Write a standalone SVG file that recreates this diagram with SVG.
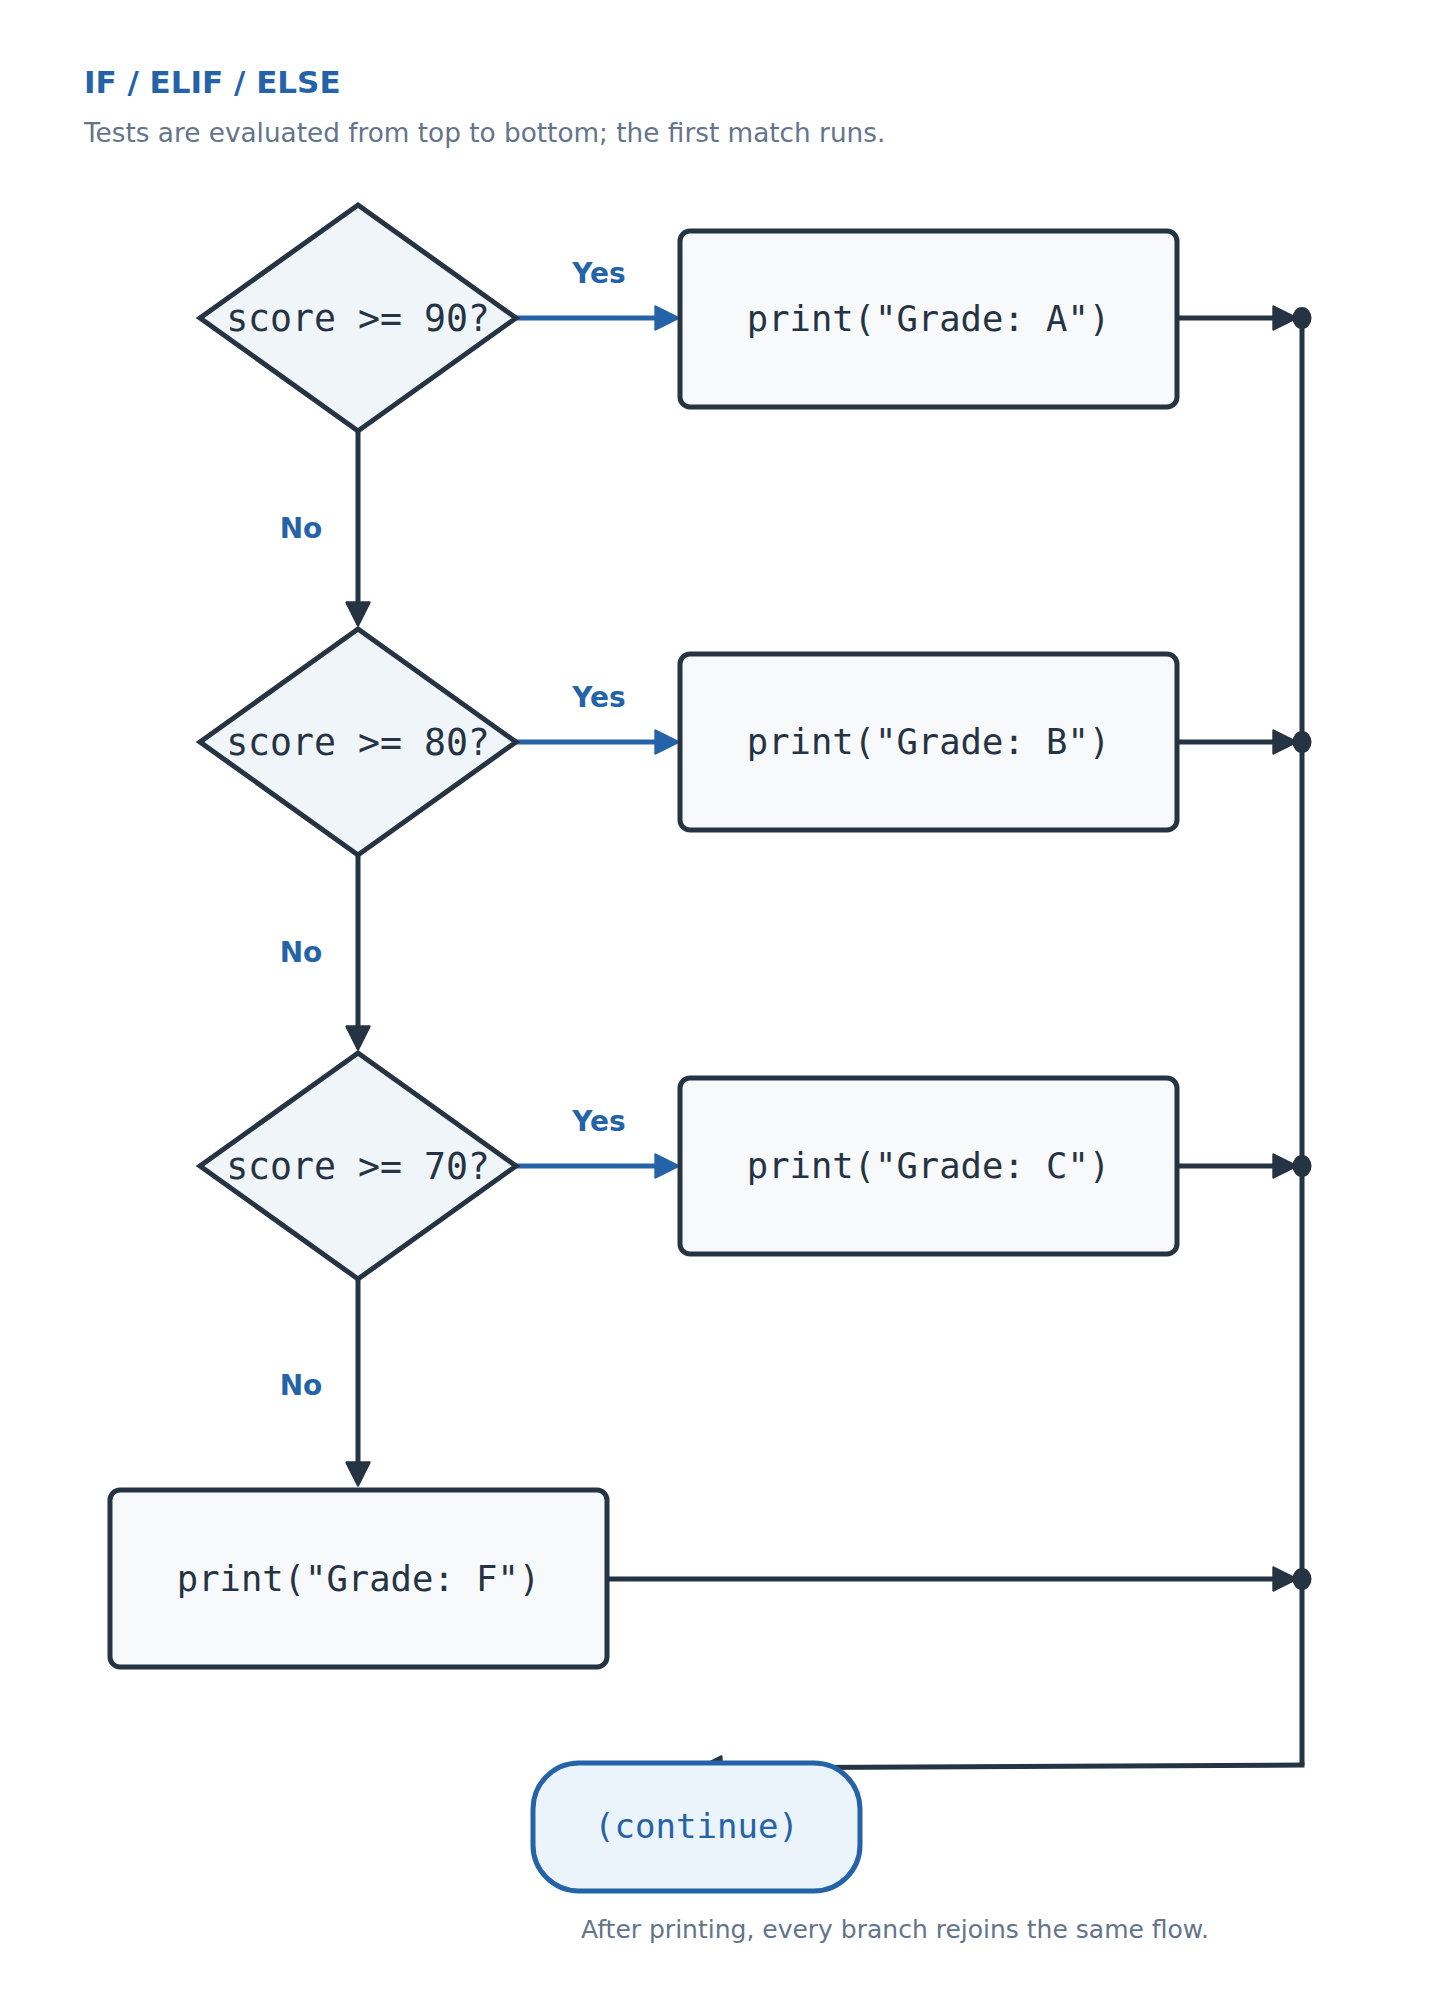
<svg xmlns="http://www.w3.org/2000/svg" width="1445" height="1990" viewBox="0 0 1445 1990">
<style>
.title{font-family:"DejaVu Sans",sans-serif;font-weight:bold;font-size:31px;fill:#2563a8}
.sub{font-family:"DejaVu Sans",sans-serif;font-size:26.3px;fill:#64748b}
.foot{font-family:"DejaVu Sans",sans-serif;font-size:25px;fill:#64748b}
.lbl{font-family:"DejaVu Sans",sans-serif;font-weight:bold;font-size:28px;fill:#2563a8;text-anchor:middle}
.mono{font-family:"DejaVu Sans Mono",monospace;fill:#253342;text-anchor:middle}
.dia{fill:#f0f5fa;stroke:#253342;stroke-width:5;stroke-linejoin:miter}
.box{fill:#f7f9fb;stroke:#253342;stroke-width:5}
.term{fill:#ebf3fb;stroke:#2563a8;stroke-width:5}
.dk{fill:none;stroke:#253342;stroke-width:5}
.bl{fill:none;stroke:#2563a8;stroke-width:5}
.dot{fill:#253342}
</style>
<defs>
<marker id="ad" markerUnits="userSpaceOnUse" markerWidth="30" markerHeight="30" viewBox="-2 -2 26 24" refX="10" refY="10" orient="auto">
<path d="M0,0 L20,10 L0,20 z" fill="#253342" stroke="#253342" stroke-width="2" stroke-linejoin="round"/>
</marker>
<marker id="ab" markerUnits="userSpaceOnUse" markerWidth="30" markerHeight="30" viewBox="-2 -2 26 24" refX="10" refY="10" orient="auto">
<path d="M0,0 L20,10 L0,20 z" fill="#2563a8" stroke="#2563a8" stroke-width="2" stroke-linejoin="round"/>
</marker>
</defs>
<rect width="1445" height="1990" fill="#ffffff"/>
<text class="title" x="84" y="93">IF / ELIF / ELSE</text>
<text class="sub" x="84" y="142">Tests are evaluated from top to bottom; the first match runs.</text>

<g id="connectors">
<path class="bl" d="M516,318 L667,318" marker-end="url(#ab)"/>
<path class="bl" d="M516,742 L667,742" marker-end="url(#ab)"/>
<path class="bl" d="M516,1166 L667,1166" marker-end="url(#ab)"/>
<path class="dk" d="M358,431 L358,614" marker-end="url(#ad)"/>
<path class="dk" d="M358,855 L358,1038" marker-end="url(#ad)"/>
<path class="dk" d="M358,1279 L358,1474" marker-end="url(#ad)"/>
<path class="dk" d="M1177,318 L1285,318" marker-end="url(#ad)"/>
<path class="dk" d="M1177,742 L1285,742" marker-end="url(#ad)"/>
<path class="dk" d="M1177,1166 L1285,1166" marker-end="url(#ad)"/>
<path class="dk" d="M607,1579 L1285,1579" marker-end="url(#ad)"/>
<path class="dk" d="M1302,318 L1302,1765"/>
<path class="dk" d="M1304.5,1765 L710,1768" marker-end="url(#ad)"/>
<ellipse class="dot" cx="1302" cy="318" rx="9.5" ry="11"/>
<ellipse class="dot" cx="1302" cy="742" rx="9.5" ry="11"/>
<ellipse class="dot" cx="1302" cy="1166" rx="9.5" ry="11"/>
<ellipse class="dot" cx="1302" cy="1579" rx="9.5" ry="11"/>
<text class="lbl" x="599" y="283">Yes</text>
<text class="lbl" x="599" y="707">Yes</text>
<text class="lbl" x="599" y="1131">Yes</text>
<text class="lbl" x="301" y="538">No</text>
<text class="lbl" x="301" y="962">No</text>
<text class="lbl" x="301" y="1395">No</text>
</g>

<g id="d1">
<polygon class="dia" points="358,205 516,318 358,431 200,318"/>
<text class="mono" x="358" y="331" font-size="36.5">score &gt;= 90?</text>
</g>
<g id="d2">
<polygon class="dia" points="358,629 516,742 358,855 200,742"/>
<text class="mono" x="358" y="755" font-size="36.5">score &gt;= 80?</text>
</g>
<g id="d3">
<polygon class="dia" points="358,1053 516,1166 358,1279 200,1166"/>
<text class="mono" x="358" y="1179" font-size="36.5">score &gt;= 70?</text>
</g>
<g id="pA">
<rect class="box" x="680" y="231" width="497" height="176" rx="10"/>
<text class="mono" x="928.5" y="331" font-size="35.5">print("Grade: A")</text>
</g>
<g id="pB">
<rect class="box" x="680" y="654" width="497" height="176" rx="10"/>
<text class="mono" x="928.5" y="754" font-size="35.5">print("Grade: B")</text>
</g>
<g id="pC">
<rect class="box" x="680" y="1078" width="497" height="176" rx="10"/>
<text class="mono" x="928.5" y="1178" font-size="35.5">print("Grade: C")</text>
</g>
<g id="pF">
<rect class="box" x="110" y="1490" width="497" height="177" rx="10"/>
<text class="mono" x="358.5" y="1591" font-size="35.5">print("Grade: F")</text>
</g>
<g id="cont">
<rect class="term" x="533" y="1763" width="327" height="128" rx="46"/>
<text class="mono" x="696.5" y="1838" font-size="34" style="fill:#2563a8">(continue)</text>
</g>
<text class="foot" x="581" y="1938">After printing, every branch rejoins the same flow.</text>
</svg>
